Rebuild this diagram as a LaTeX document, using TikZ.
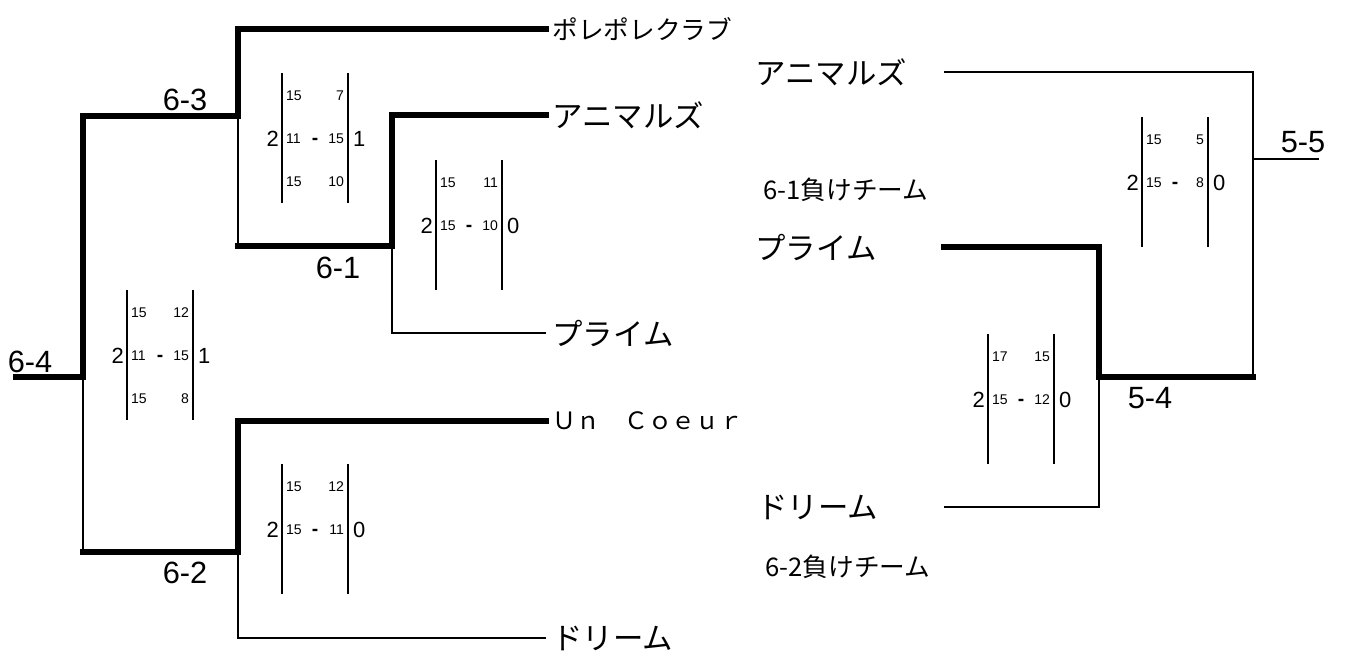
\documentclass[tikz,border=0pt]{standalone}
\usepackage{fontspec}
\setmainfont{Liberation Sans}
\newfontfamily\jpfont{Noto Sans CJK JP}

\tikzset{
  win/.style={line width=3.8pt,line cap=rect},
  lose/.style={line width=1.4pt},
  bar/.style={line width=1.3pt},
  team/.style={anchor=west,inner sep=3.5pt,font=\jpfont\fontsize{17.3}{20}\selectfont},
  smallteam/.style={anchor=west,inner sep=3.5pt,font=\jpfont\fontsize{14.6}{17}\selectfont},
  matchlbl/.style={inner sep=0pt,font=\fontsize{17.5}{20}\selectfont},
  games/.style={inner sep=1pt,font=\fontsize{12.5}{14}\selectfont},
  pts/.style={inner sep=1pt,font=\fontsize{8}{9}\selectfont},
}

% #1 name, #2 left bar x, #3 top y, #4/#5 games won, #6 set scores
\newcommand{\scorebox}[6]{
\draw[bar] (#2,#3) -- (#2,#3+130);
\draw[bar] (#2+66,#3) -- (#2+66,#3+130);
\node[games,anchor=east] (#1-l) at (#2-1,#3+66) {#4};
\node[games,anchor=west] (#1-r) at (#2+69,#3+66) {#5};
\node[pts,font=\bfseries\fontsize{11}{12}\selectfont] (#1-d) at (#2+33,#3+68) {-};
\foreach \a/\b [count=\i] in {#6} {
  \node[pts,anchor=west] (#1-a\i) at (#2+2,#3-20+43*\i) {\a};
  \node[pts,anchor=east] (#1-b\i) at (#2+64,#3-20+43*\i) {\b};
}
}

\begin{document}
\begin{tikzpicture}[x=0.02cm,y=-0.02cm]
\useasboundingbox (0,0) rectangle (1345,650);

% first round
\node[smallteam] (pole) at (546,29) {ポレポレクラブ};
\node[team] (animL) at (546,115) {アニマルズ};
\node[team] (primeL) at (546,333) {プライム};
\node[smallteam,font=\jpfont\fontsize{13.6}{16}\selectfont] (coeur) at (546,421) {Ｕｎ　Ｃｏｅｕｒ};
\node[team] (dreamL) at (546,638) {ドリーム};

\coordinate (out64) at (16,377);
\coordinate (m64) at (83,377);
\coordinate (m63) at (238,116);
\coordinate (m61) at (392,246);
\coordinate (m62) at (238,552);

\draw[win] (out64) -- (m64) |- (m63) |- (pole.west);
\draw[lose] (m63) -- (m63 |- m61);
\draw[win] (m63 |- m61) -- (m61) |- (animL.west);
\draw[lose] (m61) |- (primeL.west);
\draw[lose] (m64) -- (m64 |- m62);
\draw[win] (m64 |- m62) -- (m62) |- (coeur.west);
\draw[lose] (m62) |- (dreamL.west);

\node[matchlbl] (l64) at (30,362) {6-4};
\node[matchlbl] (l63) at (185,100) {6-3};
\node[matchlbl] (l61) at (338,268) {6-1};
\node[matchlbl] (l62) at (185,573) {6-2};

\scorebox{s63}{282}{73}{2}{1}{15/7,11/15,15/10}
\scorebox{s61}{436}{160}{2}{0}{15/11,15/10}
\scorebox{s64}{127}{290}{2}{1}{15/12,11/15,15/8}
\scorebox{s62}{282}{464}{2}{0}{15/12,15/11}

% losers bracket
\node[team] (animR) at (749,72) {アニマルズ};
\node[smallteam] (lose61) at (757,190) {6-1負けチーム};
\node[team] (primeR) at (749,247) {プライム};
\node[team] (dreamR) at (751,507) {ドリーム};
\node[smallteam] (lose62) at (759,567) {6-2負けチーム};

\coordinate (sAnim) at (944,72);
\coordinate (sPrime) at (944,247);
\coordinate (sDream) at (944,507);
\coordinate (m54) at (1099,377);
\coordinate (m55) at (1253,159);
\coordinate (out55) at (1319,159);

\draw[lose] (sAnim) -| (m55) -- (out55);
\draw[lose] (m55) -- (m55 |- m54);
\draw[win] (sPrime) -| (m54) -- (m54 -| m55);
\draw[lose] (sDream) -| (m54);

\node[matchlbl] (l55) at (1303,142) {5-5};
\node[matchlbl] (l54) at (1150,398) {5-4};

\scorebox{s55}{1142}{117}{2}{0}{15/5,15/8}
\scorebox{s54}{988}{334}{2}{0}{17/15,15/12}
\end{tikzpicture}
\end{document}
